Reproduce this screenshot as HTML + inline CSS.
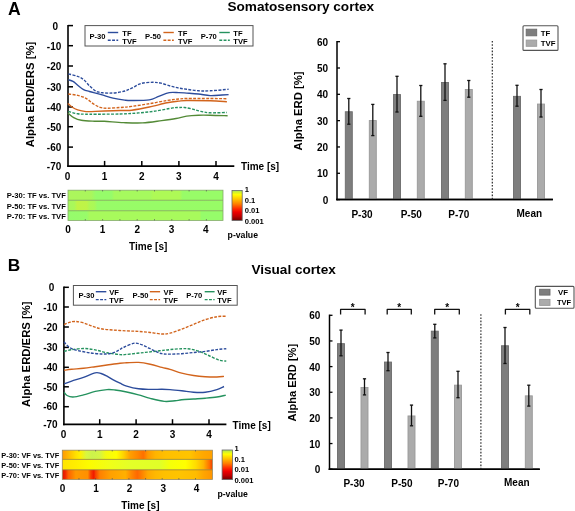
<!DOCTYPE html>
<html><head><meta charset="utf-8"><style>
html,body{margin:0;padding:0;background:#fff;width:575px;height:511px;overflow:hidden}
svg{display:block;will-change:transform}
text{font-family:"Liberation Sans", sans-serif;fill:#000}
</style></head><body>
<svg width="575" height="511" viewBox="0 0 575 511">
<defs><linearGradient id="ha1" x1="0" x2="1" y1="0" y2="0"><stop offset="0" stop-color="#acf65c"/><stop offset="0.15" stop-color="#aaf65c"/><stop offset="0.18" stop-color="#96fc6a"/><stop offset="0.28" stop-color="#96fc6a"/><stop offset="0.3" stop-color="#a6fa5e"/><stop offset="0.53" stop-color="#a6fa5e"/><stop offset="0.55" stop-color="#aefa56"/><stop offset="0.72" stop-color="#aefa56"/><stop offset="0.74" stop-color="#98fc68"/><stop offset="1" stop-color="#98fc68"/></linearGradient><linearGradient id="ha2" x1="0" x2="1" y1="0" y2="0"><stop offset="0" stop-color="#a8f85c"/><stop offset="0.04" stop-color="#aaf85a"/><stop offset="0.06" stop-color="#c0f446"/><stop offset="0.12" stop-color="#bef448"/><stop offset="0.14" stop-color="#aef854"/><stop offset="0.17" stop-color="#aaf858"/><stop offset="0.19" stop-color="#98fc68"/><stop offset="1" stop-color="#98fc66"/></linearGradient><linearGradient id="ha3" x1="0" x2="1" y1="0" y2="0"><stop offset="0" stop-color="#96fc6c"/><stop offset="0.12" stop-color="#98fc6a"/><stop offset="0.14" stop-color="#a8fa5c"/><stop offset="0.85" stop-color="#a8fa5c"/><stop offset="0.86" stop-color="#96fc6a"/><stop offset="1" stop-color="#96fc6a"/></linearGradient><linearGradient id="cb" x1="0" x2="0" y1="0" y2="1"><stop offset="0" stop-color="#a0e060"/><stop offset="0.06" stop-color="#d0f030"/><stop offset="0.14" stop-color="#ffff00"/><stop offset="0.3" stop-color="#ffc000"/><stop offset="0.45" stop-color="#ff8000"/><stop offset="0.6" stop-color="#ff3000"/><stop offset="0.72" stop-color="#f00000"/><stop offset="0.86" stop-color="#c00000"/><stop offset="1" stop-color="#700000"/></linearGradient><linearGradient id="hb1" x1="0" x2="1" y1="0" y2="0"><stop offset="0" stop-color="#ff9a00"/><stop offset="0.04" stop-color="#ffb800"/><stop offset="0.09" stop-color="#ffe000"/><stop offset="0.12" stop-color="#fff000"/><stop offset="0.16" stop-color="#d8f640"/><stop offset="0.2" stop-color="#ccf24c"/><stop offset="0.25" stop-color="#d4f444"/><stop offset="0.29" stop-color="#f4fa10"/><stop offset="0.36" stop-color="#ffff00"/><stop offset="0.41" stop-color="#ffd000"/><stop offset="0.45" stop-color="#ffa000"/><stop offset="0.5" stop-color="#ff8800"/><stop offset="0.54" stop-color="#ff7000"/><stop offset="0.57" stop-color="#ff9800"/><stop offset="0.62" stop-color="#ffb400"/><stop offset="0.69" stop-color="#ffc000"/><stop offset="0.85" stop-color="#ffc400"/><stop offset="0.89" stop-color="#ffb400"/><stop offset="0.94" stop-color="#ffa800"/><stop offset="1" stop-color="#ffa000"/></linearGradient><linearGradient id="hb2" x1="0" x2="1" y1="0" y2="0"><stop offset="0" stop-color="#ffe400"/><stop offset="0.09" stop-color="#ffee00"/><stop offset="0.18" stop-color="#fcfc00"/><stop offset="0.32" stop-color="#f0ff18"/><stop offset="0.45" stop-color="#e4ff28"/><stop offset="0.65" stop-color="#e0ff28"/><stop offset="0.72" stop-color="#f6ff08"/><stop offset="0.82" stop-color="#ffff00"/><stop offset="0.89" stop-color="#ffdc00"/><stop offset="0.94" stop-color="#ffb400"/><stop offset="0.98" stop-color="#ff7000"/><stop offset="1" stop-color="#f04000"/></linearGradient><linearGradient id="hb3" x1="0" x2="1" y1="0" y2="0"><stop offset="0" stop-color="#e01000"/><stop offset="0.02" stop-color="#f02800"/><stop offset="0.04" stop-color="#ff6000"/><stop offset="0.09" stop-color="#ff9800"/><stop offset="0.17" stop-color="#ff9000"/><stop offset="0.19" stop-color="#f84000"/><stop offset="0.21" stop-color="#f01800"/><stop offset="0.22" stop-color="#f84000"/><stop offset="0.25" stop-color="#ff8000"/><stop offset="0.32" stop-color="#ffa000"/><stop offset="0.42" stop-color="#ffb000"/><stop offset="0.46" stop-color="#ff8800"/><stop offset="0.5" stop-color="#ff6800"/><stop offset="0.52" stop-color="#ff7800"/><stop offset="0.57" stop-color="#ffa800"/><stop offset="0.62" stop-color="#ffb800"/><stop offset="0.68" stop-color="#ffc000"/><stop offset="0.78" stop-color="#ffc400"/><stop offset="0.89" stop-color="#ffbc00"/><stop offset="0.94" stop-color="#ffa600"/><stop offset="1" stop-color="#ff9400"/></linearGradient></defs>
<rect width="575" height="511" fill="#fff"/>
<text x="7.9" y="14.8" font-size="17.6" font-weight="bold" text-anchor="start">A</text>
<text x="7.7" y="271.2" font-size="17.3" font-weight="bold" text-anchor="start">B</text>
<text x="300.8" y="10.9" font-size="13.6" font-weight="bold" text-anchor="middle">Somatosensory cortex</text>
<text x="293.6" y="273.9" font-size="13.6" font-weight="bold" text-anchor="middle">Visual cortex</text>
<line x1="68" y1="24.95" x2="68" y2="166.85" stroke="#000" stroke-width="1.6"/>
<line x1="68" y1="25.6" x2="73" y2="25.6" stroke="#000" stroke-width="1.5"/>
<text x="58" y="29.9" font-size="10" font-weight="bold" text-anchor="end">0</text>
<line x1="68" y1="45.7" x2="73" y2="45.7" stroke="#000" stroke-width="1.5"/>
<text x="61.3" y="50" font-size="10" font-weight="bold" text-anchor="end">-10</text>
<line x1="68" y1="66" x2="73" y2="66" stroke="#000" stroke-width="1.5"/>
<text x="61.3" y="70.3" font-size="10" font-weight="bold" text-anchor="end">-20</text>
<line x1="68" y1="86.8" x2="73" y2="86.8" stroke="#000" stroke-width="1.5"/>
<text x="61.3" y="91.1" font-size="10" font-weight="bold" text-anchor="end">-30</text>
<line x1="68" y1="107" x2="73" y2="107" stroke="#000" stroke-width="1.5"/>
<text x="61.3" y="111.3" font-size="10" font-weight="bold" text-anchor="end">-40</text>
<line x1="68" y1="126.7" x2="73" y2="126.7" stroke="#000" stroke-width="1.5"/>
<text x="61.3" y="131" font-size="10" font-weight="bold" text-anchor="end">-50</text>
<line x1="68" y1="147.1" x2="73" y2="147.1" stroke="#000" stroke-width="1.5"/>
<text x="61.3" y="151.4" font-size="10" font-weight="bold" text-anchor="end">-60</text>
<text x="61.3" y="170.4" font-size="10" font-weight="bold" text-anchor="end">-70</text>
<line x1="67.2" y1="166.1" x2="234.3" y2="166.1" stroke="#000" stroke-width="1.6"/>
<text x="67.6" y="180" font-size="10" font-weight="bold" text-anchor="middle">0</text>
<line x1="104.6" y1="166.1" x2="104.6" y2="160.9" stroke="#000" stroke-width="1.5"/>
<text x="104.6" y="180" font-size="10" font-weight="bold" text-anchor="middle">1</text>
<line x1="141.8" y1="166.1" x2="141.8" y2="160.9" stroke="#000" stroke-width="1.5"/>
<text x="141.8" y="180" font-size="10" font-weight="bold" text-anchor="middle">2</text>
<line x1="178.9" y1="166.1" x2="178.9" y2="160.9" stroke="#000" stroke-width="1.5"/>
<text x="178.9" y="180" font-size="10" font-weight="bold" text-anchor="middle">3</text>
<line x1="216" y1="166.1" x2="216" y2="160.9" stroke="#000" stroke-width="1.5"/>
<text x="216" y="180" font-size="10" font-weight="bold" text-anchor="middle">4</text>
<text x="241" y="170" font-size="10" font-weight="bold" text-anchor="start">Time [s]</text>
<text transform="translate(34.2,94.5) rotate(-90)" font-size="11.3" font-weight="bold" text-anchor="middle">Alpha ERD/ERS [%]</text>
<path d="M67.9,113 C68.87,113.77 71.47,116.38 73.7,117.6 C75.93,118.82 77.8,119.7 81.3,120.3 C84.8,120.9 90.87,121.03 94.7,121.2 C98.53,121.37 99.52,121.07 104.3,121.3 C109.08,121.53 117.03,122.33 123.4,122.6 C129.77,122.87 136.12,123.23 142.5,122.9 C148.88,122.57 156.12,121.33 161.7,120.6 C167.28,119.87 171.83,119.25 176,118.5 C180.17,117.75 182.95,116.65 186.7,116.1 C190.45,115.55 194.58,115.35 198.5,115.2 C202.42,115.05 205.35,115.1 210.2,115.2 C215.05,115.3 224.7,115.7 227.6,115.8" fill="none" stroke="#538a36" stroke-width="1.38"/>
<path d="M68.3,111.4 C69.87,111.8 74.17,113.33 77.7,113.8 C81.23,114.27 82.45,114.17 89.5,114.2 C96.55,114.23 111.98,114.2 120,114 C128.02,113.8 131.73,113.48 137.6,113 C143.47,112.52 149.33,111.95 155.2,111.1 C161.07,110.25 168.88,108.5 172.8,107.9 C176.72,107.3 176.77,107.57 178.7,107.5 C180.63,107.43 182.08,107.23 184.4,107.5 C186.72,107.77 189.87,108.45 192.6,109.1 C195.33,109.75 197.87,110.78 200.8,111.4 C203.73,112.02 205.85,112.62 210.2,112.8 C214.55,112.98 224.12,112.55 226.9,112.5" fill="none" stroke="#25925e" stroke-width="1.38" stroke-dasharray="2.9 1.4"/>
<path d="M67.8,103.4 C68.48,104 70.25,105.92 71.9,107 C73.55,108.08 75.35,109.13 77.7,109.9 C80.05,110.67 83.07,111.35 86,111.6 C88.93,111.85 90.8,111.55 95.3,111.4 C99.8,111.25 108.1,110.85 113,110.7 C117.9,110.55 121.58,110.58 124.7,110.5 C127.82,110.42 127.6,110.78 131.7,110.2 C135.8,109.62 143.42,108.23 149.3,107 C155.18,105.77 162.1,103.78 167,102.8 C171.9,101.82 175.42,101.48 178.7,101.1 C181.98,100.72 181.45,100.55 186.7,100.5 C191.95,100.45 203.5,100.6 210.2,100.8 C216.9,101 224.12,101.55 226.9,101.7" fill="none" stroke="#d2641c" stroke-width="1.38"/>
<path d="M68.3,94 C69.87,94.23 74.75,94.68 77.7,95.4 C80.65,96.12 83.45,96.93 86,98.3 C88.55,99.67 90.67,102.1 93,103.6 C95.33,105.1 97.65,106.53 100,107.3 C102.35,108.07 103.77,108.17 107.1,108.2 C110.43,108.23 115.9,107.8 120,107.5 C124.1,107.2 126.82,107.03 131.7,106.4 C136.58,105.77 143.42,104.68 149.3,103.7 C155.18,102.72 162.1,101.28 167,100.5 C171.9,99.72 175.42,99.33 178.7,99 C181.98,98.67 181.45,98.58 186.7,98.5 C191.95,98.42 203.5,98.47 210.2,98.5 C216.9,98.53 224.12,98.67 226.9,98.7" fill="none" stroke="#d2641c" stroke-width="1.38" stroke-dasharray="2.9 1.4"/>
<path d="M68.3,79.7 C69.08,79.98 71.43,80.48 73,81.4 C74.57,82.32 75.93,83.83 77.7,85.2 C79.47,86.57 81.63,88.55 83.6,89.6 C85.57,90.65 86.57,90.67 89.5,91.5 C92.43,92.33 97.28,93.5 101.2,94.6 C105.12,95.7 109.08,97.18 113,98.1 C116.92,99.02 121.58,99.7 124.7,100.1 C127.82,100.5 127.6,100.53 131.7,100.5 C135.8,100.47 144.8,100.58 149.3,99.9 C153.8,99.22 155.37,97.62 158.7,96.4 C162.03,95.18 165.97,93.23 169.3,92.6 C172.63,91.97 175.8,92.52 178.7,92.6 C181.6,92.68 183.4,92.87 186.7,93.1 C190,93.33 194.58,93.58 198.5,94 C202.42,94.42 206.28,95.43 210.2,95.6 C214.12,95.77 218.93,95.17 222,95 C225.07,94.83 227.5,94.67 228.6,94.6" fill="none" stroke="#2c4c9c" stroke-width="1.38"/>
<path d="M68.3,73.8 C69.87,74.23 75.15,75.43 77.7,76.4 C80.25,77.37 81.63,78.02 83.6,79.6 C85.57,81.18 87.53,84.02 89.5,85.9 C91.47,87.78 93.83,89.85 95.4,90.9 C96.97,91.95 97.73,91.88 98.9,92.2 C100.07,92.52 100.67,92.65 102.4,92.8 C104.13,92.95 106.98,93.12 109.3,93.1 C111.62,93.08 113.68,93.05 116.3,92.7 C118.92,92.35 122.43,91.75 125,91 C127.57,90.25 129.02,89.45 131.7,88.2 C134.38,86.95 137.57,84.48 141.1,83.5 C144.63,82.52 149.57,82.35 152.9,82.3 C156.23,82.25 158.17,82.57 161.1,83.2 C164.03,83.83 167.57,85.3 170.5,86.1 C173.43,86.9 176,87.47 178.7,88 C181.4,88.53 183.4,88.83 186.7,89.3 C190,89.77 194.58,90.55 198.5,90.8 C202.42,91.05 205.18,91.05 210.2,90.8 C215.22,90.55 225.53,89.55 228.6,89.3" fill="none" stroke="#2c4c9c" stroke-width="1.38" stroke-dasharray="2.9 1.4"/>
<rect x="85" y="25.6" width="168" height="20.4" fill="#fff" stroke="#555" stroke-width="1"/>
<text x="89.5" y="38.7" font-size="7.6" font-weight="bold" text-anchor="start">P-30</text>
<line x1="107.8" y1="32.5" x2="118.2" y2="32.5" stroke="#2c4c9c" stroke-width="1.4"/>
<line x1="107.8" y1="40.2" x2="118.2" y2="40.2" stroke="#2c4c9c" stroke-width="1.4" stroke-dasharray="2.9 1.4"/>
<text x="122.3" y="35.8" font-size="7.6" font-weight="bold" text-anchor="start">TF</text>
<text x="122.3" y="43.5" font-size="7.6" font-weight="bold" text-anchor="start">TVF</text>
<text x="145" y="38.7" font-size="7.6" font-weight="bold" text-anchor="start">P-50</text>
<line x1="163.4" y1="32.5" x2="173.8" y2="32.5" stroke="#d2641c" stroke-width="1.4"/>
<line x1="163.4" y1="40.2" x2="173.8" y2="40.2" stroke="#d2641c" stroke-width="1.4" stroke-dasharray="2.9 1.4"/>
<text x="178" y="35.8" font-size="7.6" font-weight="bold" text-anchor="start">TF</text>
<text x="178" y="43.5" font-size="7.6" font-weight="bold" text-anchor="start">TVF</text>
<text x="200.8" y="38.7" font-size="7.6" font-weight="bold" text-anchor="start">P-70</text>
<line x1="219.3" y1="32.5" x2="229.8" y2="32.5" stroke="#25925e" stroke-width="1.4"/>
<line x1="219.3" y1="40.2" x2="229.8" y2="40.2" stroke="#25925e" stroke-width="1.4" stroke-dasharray="2.9 1.4"/>
<text x="233.3" y="35.8" font-size="7.6" font-weight="bold" text-anchor="start">TF</text>
<text x="233.3" y="43.5" font-size="7.6" font-weight="bold" text-anchor="start">TVF</text>
<rect x="68" y="190.2" width="155" height="10.1" fill="url(#ha1)" stroke="none" stroke-width="1"/>
<rect x="68" y="200.3" width="155" height="10.4" fill="url(#ha2)" stroke="none" stroke-width="1"/>
<rect x="68" y="210.7" width="155" height="9.7" fill="url(#ha3)" stroke="none" stroke-width="1"/>
<line x1="68" y1="200.3" x2="223" y2="200.3" stroke="#84b65a" stroke-width="1.1"/>
<line x1="68" y1="210.7" x2="223" y2="210.7" stroke="#84b65a" stroke-width="1.1"/>
<rect x="68" y="190.2" width="155" height="30.2" fill="none" stroke="#84aa6a" stroke-width="0.8"/>
<line x1="85.3" y1="190.2" x2="85.3" y2="191.4" stroke="#555" stroke-width="0.8"/>
<line x1="85.3" y1="219.2" x2="85.3" y2="220.4" stroke="#555" stroke-width="0.8"/>
<line x1="102.6" y1="190.2" x2="102.6" y2="191.4" stroke="#555" stroke-width="0.8"/>
<line x1="102.6" y1="219.2" x2="102.6" y2="220.4" stroke="#555" stroke-width="0.8"/>
<line x1="119.9" y1="190.2" x2="119.9" y2="191.4" stroke="#555" stroke-width="0.8"/>
<line x1="119.9" y1="219.2" x2="119.9" y2="220.4" stroke="#555" stroke-width="0.8"/>
<line x1="137.2" y1="190.2" x2="137.2" y2="191.4" stroke="#555" stroke-width="0.8"/>
<line x1="137.2" y1="219.2" x2="137.2" y2="220.4" stroke="#555" stroke-width="0.8"/>
<line x1="154.5" y1="190.2" x2="154.5" y2="191.4" stroke="#555" stroke-width="0.8"/>
<line x1="154.5" y1="219.2" x2="154.5" y2="220.4" stroke="#555" stroke-width="0.8"/>
<line x1="171.8" y1="190.2" x2="171.8" y2="191.4" stroke="#555" stroke-width="0.8"/>
<line x1="171.8" y1="219.2" x2="171.8" y2="220.4" stroke="#555" stroke-width="0.8"/>
<line x1="189.1" y1="190.2" x2="189.1" y2="191.4" stroke="#555" stroke-width="0.8"/>
<line x1="189.1" y1="219.2" x2="189.1" y2="220.4" stroke="#555" stroke-width="0.8"/>
<line x1="206.4" y1="190.2" x2="206.4" y2="191.4" stroke="#555" stroke-width="0.8"/>
<line x1="206.4" y1="219.2" x2="206.4" y2="220.4" stroke="#555" stroke-width="0.8"/>
<text x="68" y="233.3" font-size="10" font-weight="bold" text-anchor="middle">0</text>
<text x="102.6" y="233.3" font-size="10" font-weight="bold" text-anchor="middle">1</text>
<text x="137.2" y="233.3" font-size="10" font-weight="bold" text-anchor="middle">2</text>
<text x="171.6" y="233.3" font-size="10" font-weight="bold" text-anchor="middle">3</text>
<text x="205.9" y="233.3" font-size="10" font-weight="bold" text-anchor="middle">4</text>
<text x="148.2" y="250.1" font-size="10" font-weight="bold" text-anchor="middle">Time [s]</text>
<text x="65.8" y="198.4" font-size="7.6" font-weight="bold" text-anchor="end">P-30: TF vs. TVF</text>
<text x="65.8" y="208.7" font-size="7.6" font-weight="bold" text-anchor="end">P-50: TF vs. TVF</text>
<text x="65.8" y="219" font-size="7.6" font-weight="bold" text-anchor="end">P-70: TF vs. TVF</text>
<rect x="232" y="190.4" width="10.2" height="30.1" fill="url(#cb)" stroke="#666" stroke-width="0.8"/>
<text x="244.7" y="192.2" font-size="7.6" font-weight="bold" text-anchor="start">1</text>
<text x="244.7" y="202.6" font-size="7.6" font-weight="bold" text-anchor="start">0.1</text>
<text x="244.7" y="212.9" font-size="7.6" font-weight="bold" text-anchor="start">0.01</text>
<text x="244.7" y="223.8" font-size="7.6" font-weight="bold" text-anchor="start">0.001</text>
<text x="242.8" y="238" font-size="8.7" font-weight="bold" text-anchor="middle">p-value</text>
<line x1="337" y1="40.98" x2="337" y2="200.35" stroke="#000" stroke-width="1.5"/>
<line x1="336.25" y1="199.6" x2="552.9" y2="199.6" stroke="#000" stroke-width="1.5"/>
<line x1="337" y1="199.6" x2="340" y2="199.6" stroke="#000" stroke-width="1.3"/>
<text x="328.2" y="203.7" font-size="10" font-weight="bold" text-anchor="end">0</text>
<line x1="337" y1="173.28" x2="340" y2="173.28" stroke="#000" stroke-width="1.3"/>
<text x="328.2" y="177.38" font-size="10" font-weight="bold" text-anchor="end">10</text>
<line x1="337" y1="146.96" x2="340" y2="146.96" stroke="#000" stroke-width="1.3"/>
<text x="328.2" y="151.06" font-size="10" font-weight="bold" text-anchor="end">20</text>
<line x1="337" y1="120.64" x2="340" y2="120.64" stroke="#000" stroke-width="1.3"/>
<text x="328.2" y="124.74" font-size="10" font-weight="bold" text-anchor="end">30</text>
<line x1="337" y1="94.32" x2="340" y2="94.32" stroke="#000" stroke-width="1.3"/>
<text x="328.2" y="98.42" font-size="10" font-weight="bold" text-anchor="end">40</text>
<line x1="337" y1="68" x2="340" y2="68" stroke="#000" stroke-width="1.3"/>
<text x="328.2" y="72.1" font-size="10" font-weight="bold" text-anchor="end">50</text>
<line x1="337" y1="41.68" x2="340" y2="41.68" stroke="#000" stroke-width="1.3"/>
<text x="328.2" y="45.78" font-size="10" font-weight="bold" text-anchor="end">60</text>
<text transform="translate(302.2,110.9) rotate(-90)" font-size="11.3" font-weight="bold" text-anchor="middle">Alpha ERD [%]</text>
<rect x="345.3" y="111.75" width="7" height="87.85" fill="#7e7e7e" stroke="#6c6c6c" stroke-width="0.9"/>
<line x1="348.8" y1="98.5" x2="348.8" y2="124.2" stroke="#111" stroke-width="1.3"/>
<line x1="347.2" y1="98.5" x2="350.4" y2="98.5" stroke="#111" stroke-width="1.3"/>
<line x1="347.2" y1="124.2" x2="350.4" y2="124.2" stroke="#111" stroke-width="1.3"/>
<rect x="369.3" y="120.55" width="7" height="79.05" fill="#ababab" stroke="#999999" stroke-width="0.9"/>
<line x1="372.8" y1="104.4" x2="372.8" y2="135.6" stroke="#111" stroke-width="1.3"/>
<line x1="371.2" y1="104.4" x2="374.4" y2="104.4" stroke="#111" stroke-width="1.3"/>
<line x1="371.2" y1="135.6" x2="374.4" y2="135.6" stroke="#111" stroke-width="1.3"/>
<rect x="393.5" y="94.55" width="7" height="105.05" fill="#7e7e7e" stroke="#6c6c6c" stroke-width="0.9"/>
<line x1="397" y1="76.3" x2="397" y2="112" stroke="#111" stroke-width="1.3"/>
<line x1="395.4" y1="76.3" x2="398.6" y2="76.3" stroke="#111" stroke-width="1.3"/>
<line x1="395.4" y1="112" x2="398.6" y2="112" stroke="#111" stroke-width="1.3"/>
<rect x="417.3" y="101.25" width="7" height="98.35" fill="#ababab" stroke="#999999" stroke-width="0.9"/>
<line x1="420.8" y1="85.5" x2="420.8" y2="116.3" stroke="#111" stroke-width="1.3"/>
<line x1="419.2" y1="85.5" x2="422.4" y2="85.5" stroke="#111" stroke-width="1.3"/>
<line x1="419.2" y1="116.3" x2="422.4" y2="116.3" stroke="#111" stroke-width="1.3"/>
<rect x="441.5" y="82.45" width="7" height="117.15" fill="#7e7e7e" stroke="#6c6c6c" stroke-width="0.9"/>
<line x1="445" y1="63.8" x2="445" y2="100.4" stroke="#111" stroke-width="1.3"/>
<line x1="443.4" y1="63.8" x2="446.6" y2="63.8" stroke="#111" stroke-width="1.3"/>
<line x1="443.4" y1="100.4" x2="446.6" y2="100.4" stroke="#111" stroke-width="1.3"/>
<rect x="465.3" y="89.45" width="7" height="110.15" fill="#ababab" stroke="#999999" stroke-width="0.9"/>
<line x1="468.8" y1="80.5" x2="468.8" y2="97.2" stroke="#111" stroke-width="1.3"/>
<line x1="467.2" y1="80.5" x2="470.4" y2="80.5" stroke="#111" stroke-width="1.3"/>
<line x1="467.2" y1="97.2" x2="470.4" y2="97.2" stroke="#111" stroke-width="1.3"/>
<rect x="513.5" y="96.35" width="7" height="103.25" fill="#7e7e7e" stroke="#6c6c6c" stroke-width="0.9"/>
<line x1="517" y1="85.3" x2="517" y2="106.2" stroke="#111" stroke-width="1.3"/>
<line x1="515.4" y1="85.3" x2="518.6" y2="85.3" stroke="#111" stroke-width="1.3"/>
<line x1="515.4" y1="106.2" x2="518.6" y2="106.2" stroke="#111" stroke-width="1.3"/>
<rect x="537.5" y="104.05" width="7" height="95.55" fill="#ababab" stroke="#999999" stroke-width="0.9"/>
<line x1="541" y1="89.5" x2="541" y2="117" stroke="#111" stroke-width="1.3"/>
<line x1="539.4" y1="89.5" x2="542.6" y2="89.5" stroke="#111" stroke-width="1.3"/>
<line x1="539.4" y1="117" x2="542.6" y2="117" stroke="#111" stroke-width="1.3"/>
<line x1="336.25" y1="199.6" x2="552.9" y2="199.6" stroke="#000" stroke-width="1.5"/>
<line x1="492.3" y1="41" x2="492.3" y2="199.6" stroke="#222" stroke-width="1.15" stroke-dasharray="1.6 1.6"/>
<text x="362" y="217.8" font-size="10" font-weight="bold" text-anchor="middle">P-30</text>
<text x="411.2" y="217.8" font-size="10" font-weight="bold" text-anchor="middle">P-50</text>
<text x="458.8" y="217.8" font-size="10" font-weight="bold" text-anchor="middle">P-70</text>
<text x="529.3" y="216.6" font-size="10" font-weight="bold" text-anchor="middle">Mean</text>
<rect x="523" y="25.7" width="35" height="24.7" fill="#fff" stroke="#555" stroke-width="1.1" rx="1"/>
<rect x="526.2" y="29.2" width="10.5" height="6.6" fill="#7e7e7e" stroke="#6c6c6c" stroke-width="0.9"/>
<rect x="526.2" y="40.1" width="10.5" height="6.2" fill="#ababab" stroke="#999999" stroke-width="0.9"/>
<text x="540.8" y="35.5" font-size="7.8" font-weight="bold" text-anchor="start">TF</text>
<text x="540.8" y="46.3" font-size="7.8" font-weight="bold" text-anchor="start">TVF</text>
<line x1="63.9" y1="286.55" x2="63.9" y2="425.15" stroke="#000" stroke-width="1.6"/>
<line x1="63.9" y1="287.3" x2="68.9" y2="287.3" stroke="#000" stroke-width="1.5"/>
<text x="54.3" y="291" font-size="10" font-weight="bold" text-anchor="end">0</text>
<line x1="63.9" y1="307" x2="68.9" y2="307" stroke="#000" stroke-width="1.5"/>
<text x="57.6" y="310.7" font-size="10" font-weight="bold" text-anchor="end">-10</text>
<line x1="63.9" y1="327" x2="68.9" y2="327" stroke="#000" stroke-width="1.5"/>
<text x="57.6" y="330.7" font-size="10" font-weight="bold" text-anchor="end">-20</text>
<line x1="63.9" y1="347.4" x2="68.9" y2="347.4" stroke="#000" stroke-width="1.5"/>
<text x="57.6" y="351.1" font-size="10" font-weight="bold" text-anchor="end">-30</text>
<line x1="63.9" y1="367.3" x2="68.9" y2="367.3" stroke="#000" stroke-width="1.5"/>
<text x="57.6" y="371" font-size="10" font-weight="bold" text-anchor="end">-40</text>
<line x1="63.9" y1="386.8" x2="68.9" y2="386.8" stroke="#000" stroke-width="1.5"/>
<text x="57.6" y="390.5" font-size="10" font-weight="bold" text-anchor="end">-50</text>
<line x1="63.9" y1="406.7" x2="68.9" y2="406.7" stroke="#000" stroke-width="1.5"/>
<text x="57.6" y="410.4" font-size="10" font-weight="bold" text-anchor="end">-60</text>
<text x="57.6" y="428.1" font-size="10" font-weight="bold" text-anchor="end">-70</text>
<line x1="63.1" y1="424.4" x2="226.4" y2="424.4" stroke="#000" stroke-width="1.6"/>
<text x="63.6" y="437.6" font-size="10" font-weight="bold" text-anchor="middle">0</text>
<line x1="99.7" y1="424.4" x2="99.7" y2="419.2" stroke="#000" stroke-width="1.5"/>
<text x="99.7" y="437.6" font-size="10" font-weight="bold" text-anchor="middle">1</text>
<line x1="136.1" y1="424.4" x2="136.1" y2="419.2" stroke="#000" stroke-width="1.5"/>
<text x="136.1" y="437.6" font-size="10" font-weight="bold" text-anchor="middle">2</text>
<line x1="172.5" y1="424.4" x2="172.5" y2="419.2" stroke="#000" stroke-width="1.5"/>
<text x="172.5" y="437.6" font-size="10" font-weight="bold" text-anchor="middle">3</text>
<line x1="209" y1="424.4" x2="209" y2="419.2" stroke="#000" stroke-width="1.5"/>
<text x="209" y="437.6" font-size="10" font-weight="bold" text-anchor="middle">4</text>
<text x="232.6" y="428.5" font-size="10" font-weight="bold" text-anchor="start">Time [s]</text>
<text transform="translate(30.2,354.2) rotate(-90)" font-size="11.3" font-weight="bold" text-anchor="middle">Alpha ERD/ERS [%]</text>
<path d="M64.1,392.3 C64.58,392.83 65.53,394.72 67,395.5 C68.47,396.28 70.15,397.1 72.9,397 C75.65,396.9 79.78,395.83 83.5,394.9 C87.22,393.97 91.28,392.28 95.2,391.4 C99.12,390.52 103.7,389.83 107,389.6 C110.3,389.37 111.72,389.6 115,390 C118.28,390.4 122.78,391.18 126.7,392 C130.62,392.82 134.58,393.83 138.5,394.9 C142.42,395.97 145.9,397.32 150.2,398.4 C154.5,399.48 160.17,401 164.3,401.4 C168.43,401.8 172.1,401.07 175,400.8 C177.9,400.53 178.62,400.1 181.7,399.8 C184.78,399.5 189.58,399.27 193.5,399 C197.42,398.73 201.3,398.53 205.2,398.2 C209.1,397.87 213.47,397.52 216.9,397 C220.33,396.48 224.32,395.42 225.8,395.1" fill="none" stroke="#25925e" stroke-width="1.38"/>
<path d="M64.1,383.8 C65.37,383.35 68.47,382.18 71.7,381.1 C74.93,380.02 79.58,378.68 83.5,377.3 C87.42,375.92 92.27,373.43 95.2,372.8 C98.13,372.17 99.13,372.95 101.1,373.5 C103.07,374.05 105.05,375.08 107,376.1 C108.95,377.12 110.63,378.42 112.8,379.6 C114.97,380.78 117.68,382.12 120,383.2 C122.32,384.28 123.62,385.17 126.7,386.1 C129.78,387.03 134.58,388.25 138.5,388.8 C142.42,389.35 146.28,389.32 150.2,389.4 C154.12,389.48 158.7,389.27 162,389.3 C165.3,389.33 166.72,389.35 170,389.6 C173.28,389.85 177.78,390.35 181.7,390.8 C185.62,391.25 189.58,392.05 193.5,392.3 C197.42,392.55 201.3,392.75 205.2,392.3 C209.1,391.85 213.77,390.57 216.9,389.6 C220.03,388.63 222.82,387.02 224,386.5" fill="none" stroke="#2c4c9c" stroke-width="1.38"/>
<path d="M64.1,370.3 C65.37,370.13 68.47,369.63 71.7,369.3 C74.93,368.97 79.58,368.73 83.5,368.3 C87.42,367.87 91.28,367.25 95.2,366.7 C99.12,366.15 102.87,365.58 107,365 C111.13,364.42 116.72,363.57 120,363.2 C123.28,362.83 123.62,362.93 126.7,362.8 C129.78,362.67 134.58,362.17 138.5,362.4 C142.42,362.63 146.28,363.37 150.2,364.2 C154.12,365.03 158.7,366.53 162,367.4 C165.3,368.27 166.72,368.43 170,369.4 C173.28,370.37 177.78,372.18 181.7,373.2 C185.62,374.22 189.58,374.92 193.5,375.5 C197.42,376.08 201.3,376.45 205.2,376.7 C209.1,376.95 213.77,377.05 216.9,377 C220.03,376.95 222.82,376.5 224,376.4" fill="none" stroke="#d2641c" stroke-width="1.38"/>
<path d="M64.1,351.3 C65.37,351.03 68.47,350.17 71.7,349.7 C74.93,349.23 79.58,348.47 83.5,348.5 C87.42,348.53 91.28,349.18 95.2,349.9 C99.12,350.62 102.87,352.02 107,352.8 C111.13,353.58 116.72,354.33 120,354.6 C123.28,354.87 122.65,354.75 126.7,354.4 C130.75,354.05 138.82,353.1 144.3,352.5 C149.78,351.9 155.32,351.28 159.6,350.8 C163.88,350.32 166.32,349.95 170,349.6 C173.68,349.25 178.37,348.8 181.7,348.7 C185.03,348.6 187.07,348.55 190,349 C192.93,349.45 196.18,350.32 199.3,351.4 C202.42,352.48 205.37,354.03 208.7,355.5 C212.03,356.97 216.37,359.27 219.3,360.2 C222.23,361.13 225.13,360.95 226.3,361.1" fill="none" stroke="#25925e" stroke-width="1.38" stroke-dasharray="2.9 1.4"/>
<path d="M64.1,341.7 C64.58,342.28 65.73,344.03 67,345.2 C68.27,346.37 69.93,347.82 71.7,348.7 C73.47,349.58 74.67,349.82 77.6,350.5 C80.53,351.18 85.38,352.22 89.3,352.8 C93.22,353.38 97.77,353.85 101.1,354 C104.43,354.15 106.95,354.03 109.3,353.7 C111.65,353.37 113.42,352.73 115.2,352 C116.98,351.27 118.47,350.13 120,349.3 C121.53,348.47 121.9,348.03 124.4,347 C126.9,345.97 131.68,343.3 135,343.1 C138.32,342.9 141.18,344.57 144.3,345.8 C147.42,347.03 150.75,349.18 153.7,350.5 C156.65,351.82 159.28,353.1 162,353.7 C164.72,354.3 166.72,354.1 170,354.1 C173.28,354.1 177.78,353.97 181.7,353.7 C185.62,353.43 189.58,352.88 193.5,352.5 C197.42,352.12 201.3,351.88 205.2,351.4 C209.1,350.92 213.38,350.05 216.9,349.6 C220.42,349.15 224.73,348.85 226.3,348.7" fill="none" stroke="#2c4c9c" stroke-width="1.38" stroke-dasharray="2.9 1.4"/>
<path d="M64.1,324.7 C64.98,324.3 67.53,322.83 69.4,322.3 C71.27,321.77 72.95,321.4 75.3,321.5 C77.65,321.6 80.57,322.08 83.5,322.9 C86.43,323.72 89.97,325.42 92.9,326.4 C95.83,327.38 97.78,328.2 101.1,328.8 C104.42,329.4 108.53,329.65 112.8,330 C117.07,330.35 122.42,330.67 126.7,330.9 C130.98,331.13 134.58,331.13 138.5,331.4 C142.42,331.67 146.28,332.07 150.2,332.5 C154.12,332.93 158.7,333.88 162,334 C165.3,334.12 166.72,334.02 170,333.2 C173.28,332.38 177.78,330.57 181.7,329.1 C185.62,327.63 189.58,325.97 193.5,324.4 C197.42,322.83 201.3,320.98 205.2,319.7 C209.1,318.42 213.38,317.28 216.9,316.7 C220.42,316.12 224.73,316.28 226.3,316.2" fill="none" stroke="#d2641c" stroke-width="1.38" stroke-dasharray="2.9 1.4"/>
<rect x="73.4" y="285.5" width="163.8" height="19.7" fill="#fff" stroke="#555" stroke-width="1"/>
<text x="78.5" y="298" font-size="7.6" font-weight="bold" text-anchor="start">P-30</text>
<line x1="95.8" y1="291.7" x2="106.3" y2="291.7" stroke="#2c4c9c" stroke-width="1.4"/>
<line x1="95.8" y1="299.6" x2="106.3" y2="299.6" stroke="#2c4c9c" stroke-width="1.4" stroke-dasharray="2.9 1.4"/>
<text x="109.2" y="295.1" font-size="7.6" font-weight="bold" text-anchor="start">VF</text>
<text x="109.2" y="303" font-size="7.6" font-weight="bold" text-anchor="start">TVF</text>
<text x="132.5" y="298" font-size="7.6" font-weight="bold" text-anchor="start">P-50</text>
<line x1="149.8" y1="291.7" x2="160.1" y2="291.7" stroke="#d2641c" stroke-width="1.4"/>
<line x1="149.8" y1="299.6" x2="160.1" y2="299.6" stroke="#d2641c" stroke-width="1.4" stroke-dasharray="2.9 1.4"/>
<text x="163.6" y="295.1" font-size="7.6" font-weight="bold" text-anchor="start">VF</text>
<text x="163.6" y="303" font-size="7.6" font-weight="bold" text-anchor="start">TVF</text>
<text x="186.2" y="298" font-size="7.6" font-weight="bold" text-anchor="start">P-70</text>
<line x1="204.7" y1="291.7" x2="214.6" y2="291.7" stroke="#25925e" stroke-width="1.4"/>
<line x1="204.7" y1="299.6" x2="214.6" y2="299.6" stroke="#25925e" stroke-width="1.4" stroke-dasharray="2.9 1.4"/>
<text x="217.2" y="295.1" font-size="7.6" font-weight="bold" text-anchor="start">VF</text>
<text x="217.2" y="303" font-size="7.6" font-weight="bold" text-anchor="start">TVF</text>
<rect x="62.3" y="450.2" width="150.1" height="9.2" fill="url(#hb1)" stroke="none" stroke-width="1"/>
<rect x="62.3" y="459.4" width="150.1" height="10.4" fill="url(#hb2)" stroke="none" stroke-width="1"/>
<rect x="62.3" y="469.8" width="150.1" height="9.6" fill="url(#hb3)" stroke="none" stroke-width="1"/>
<line x1="62.3" y1="459.4" x2="212.4" y2="459.4" stroke="#907830" stroke-width="1.0" stroke-opacity="0.75"/>
<line x1="62.3" y1="469.8" x2="212.4" y2="469.8" stroke="#907830" stroke-width="1.0" stroke-opacity="0.75"/>
<rect x="62.3" y="450.2" width="150.1" height="29.2" fill="none" stroke="#9a8a60" stroke-width="0.8"/>
<line x1="78.95" y1="450.2" x2="78.95" y2="451.4" stroke="#555" stroke-width="0.8"/>
<line x1="78.95" y1="478.2" x2="78.95" y2="479.4" stroke="#555" stroke-width="0.8"/>
<line x1="95.6" y1="450.2" x2="95.6" y2="451.4" stroke="#555" stroke-width="0.8"/>
<line x1="95.6" y1="478.2" x2="95.6" y2="479.4" stroke="#555" stroke-width="0.8"/>
<line x1="112.25" y1="450.2" x2="112.25" y2="451.4" stroke="#555" stroke-width="0.8"/>
<line x1="112.25" y1="478.2" x2="112.25" y2="479.4" stroke="#555" stroke-width="0.8"/>
<line x1="128.9" y1="450.2" x2="128.9" y2="451.4" stroke="#555" stroke-width="0.8"/>
<line x1="128.9" y1="478.2" x2="128.9" y2="479.4" stroke="#555" stroke-width="0.8"/>
<line x1="145.55" y1="450.2" x2="145.55" y2="451.4" stroke="#555" stroke-width="0.8"/>
<line x1="145.55" y1="478.2" x2="145.55" y2="479.4" stroke="#555" stroke-width="0.8"/>
<line x1="162.2" y1="450.2" x2="162.2" y2="451.4" stroke="#555" stroke-width="0.8"/>
<line x1="162.2" y1="478.2" x2="162.2" y2="479.4" stroke="#555" stroke-width="0.8"/>
<line x1="178.85" y1="450.2" x2="178.85" y2="451.4" stroke="#555" stroke-width="0.8"/>
<line x1="178.85" y1="478.2" x2="178.85" y2="479.4" stroke="#555" stroke-width="0.8"/>
<line x1="195.5" y1="450.2" x2="195.5" y2="451.4" stroke="#555" stroke-width="0.8"/>
<line x1="195.5" y1="478.2" x2="195.5" y2="479.4" stroke="#555" stroke-width="0.8"/>
<text x="62.6" y="492.3" font-size="10" font-weight="bold" text-anchor="middle">0</text>
<text x="96" y="492.3" font-size="10" font-weight="bold" text-anchor="middle">1</text>
<text x="129.6" y="492.3" font-size="10" font-weight="bold" text-anchor="middle">2</text>
<text x="163.2" y="492.3" font-size="10" font-weight="bold" text-anchor="middle">3</text>
<text x="196.6" y="492.3" font-size="10" font-weight="bold" text-anchor="middle">4</text>
<text x="140.4" y="509" font-size="10" font-weight="bold" text-anchor="middle">Time [s]</text>
<text x="59.2" y="457.8" font-size="7.4" font-weight="bold" text-anchor="end">P-30: VF vs. TVF</text>
<text x="59.2" y="468.3" font-size="7.4" font-weight="bold" text-anchor="end">P-50: VF vs. TVF</text>
<text x="59.2" y="478.4" font-size="7.4" font-weight="bold" text-anchor="end">P-70: VF vs. TVF</text>
<rect x="222.1" y="450" width="10.4" height="29.6" fill="url(#cb)" stroke="#666" stroke-width="0.8"/>
<text x="234.4" y="451.4" font-size="7.6" font-weight="bold" text-anchor="start">1</text>
<text x="234.4" y="461.6" font-size="7.6" font-weight="bold" text-anchor="start">0.1</text>
<text x="234.4" y="471.5" font-size="7.6" font-weight="bold" text-anchor="start">0.01</text>
<text x="234.4" y="483.1" font-size="7.6" font-weight="bold" text-anchor="start">0.001</text>
<text x="232.6" y="496.5" font-size="8.7" font-weight="bold" text-anchor="middle">p-value</text>
<line x1="329.5" y1="314.6" x2="329.5" y2="469.95" stroke="#000" stroke-width="1.5"/>
<line x1="328.75" y1="469.2" x2="539.8" y2="469.2" stroke="#000" stroke-width="1.5"/>
<line x1="329.5" y1="469.2" x2="332.5" y2="469.2" stroke="#000" stroke-width="1.3"/>
<text x="320.4" y="473.3" font-size="10" font-weight="bold" text-anchor="end">0</text>
<line x1="329.5" y1="443.55" x2="332.5" y2="443.55" stroke="#000" stroke-width="1.3"/>
<text x="320.4" y="447.65" font-size="10" font-weight="bold" text-anchor="end">10</text>
<line x1="329.5" y1="417.9" x2="332.5" y2="417.9" stroke="#000" stroke-width="1.3"/>
<text x="320.4" y="422" font-size="10" font-weight="bold" text-anchor="end">20</text>
<line x1="329.5" y1="392.25" x2="332.5" y2="392.25" stroke="#000" stroke-width="1.3"/>
<text x="320.4" y="396.35" font-size="10" font-weight="bold" text-anchor="end">30</text>
<line x1="329.5" y1="366.6" x2="332.5" y2="366.6" stroke="#000" stroke-width="1.3"/>
<text x="320.4" y="370.7" font-size="10" font-weight="bold" text-anchor="end">40</text>
<line x1="329.5" y1="340.95" x2="332.5" y2="340.95" stroke="#000" stroke-width="1.3"/>
<text x="320.4" y="345.05" font-size="10" font-weight="bold" text-anchor="end">50</text>
<line x1="329.5" y1="315.3" x2="332.5" y2="315.3" stroke="#000" stroke-width="1.3"/>
<text x="320.4" y="319.4" font-size="10" font-weight="bold" text-anchor="end">60</text>
<text transform="translate(296.0,382.7) rotate(-90)" font-size="11.1" font-weight="bold" text-anchor="middle">Alpha ERD [%]</text>
<rect x="337.5" y="343.65" width="7" height="125.55" fill="#7e7e7e" stroke="#6c6c6c" stroke-width="0.9"/>
<line x1="341" y1="330.1" x2="341" y2="355.8" stroke="#111" stroke-width="1.3"/>
<line x1="339.4" y1="330.1" x2="342.6" y2="330.1" stroke="#111" stroke-width="1.3"/>
<line x1="339.4" y1="355.8" x2="342.6" y2="355.8" stroke="#111" stroke-width="1.3"/>
<rect x="361" y="387.55" width="7" height="81.65" fill="#ababab" stroke="#999999" stroke-width="0.9"/>
<line x1="364.5" y1="378.8" x2="364.5" y2="394.9" stroke="#111" stroke-width="1.3"/>
<line x1="362.9" y1="378.8" x2="366.1" y2="378.8" stroke="#111" stroke-width="1.3"/>
<line x1="362.9" y1="394.9" x2="366.1" y2="394.9" stroke="#111" stroke-width="1.3"/>
<rect x="384.5" y="362.05" width="7" height="107.15" fill="#7e7e7e" stroke="#6c6c6c" stroke-width="0.9"/>
<line x1="388" y1="352.5" x2="388" y2="370.7" stroke="#111" stroke-width="1.3"/>
<line x1="386.4" y1="352.5" x2="389.6" y2="352.5" stroke="#111" stroke-width="1.3"/>
<line x1="386.4" y1="370.7" x2="389.6" y2="370.7" stroke="#111" stroke-width="1.3"/>
<rect x="408" y="415.95" width="7" height="53.25" fill="#ababab" stroke="#999999" stroke-width="0.9"/>
<line x1="411.5" y1="405.1" x2="411.5" y2="425.8" stroke="#111" stroke-width="1.3"/>
<line x1="409.9" y1="405.1" x2="413.1" y2="405.1" stroke="#111" stroke-width="1.3"/>
<line x1="409.9" y1="425.8" x2="413.1" y2="425.8" stroke="#111" stroke-width="1.3"/>
<rect x="431.3" y="331.15" width="7" height="138.05" fill="#7e7e7e" stroke="#6c6c6c" stroke-width="0.9"/>
<line x1="434.8" y1="324.3" x2="434.8" y2="337.9" stroke="#111" stroke-width="1.3"/>
<line x1="433.2" y1="324.3" x2="436.4" y2="324.3" stroke="#111" stroke-width="1.3"/>
<line x1="433.2" y1="337.9" x2="436.4" y2="337.9" stroke="#111" stroke-width="1.3"/>
<rect x="454.5" y="385.15" width="7" height="84.05" fill="#ababab" stroke="#999999" stroke-width="0.9"/>
<line x1="458" y1="371.3" x2="458" y2="397.7" stroke="#111" stroke-width="1.3"/>
<line x1="456.4" y1="371.3" x2="459.6" y2="371.3" stroke="#111" stroke-width="1.3"/>
<line x1="456.4" y1="397.7" x2="459.6" y2="397.7" stroke="#111" stroke-width="1.3"/>
<rect x="501.5" y="345.75" width="7" height="123.45" fill="#7e7e7e" stroke="#6c6c6c" stroke-width="0.9"/>
<line x1="505" y1="327.5" x2="505" y2="363.5" stroke="#111" stroke-width="1.3"/>
<line x1="503.4" y1="327.5" x2="506.6" y2="327.5" stroke="#111" stroke-width="1.3"/>
<line x1="503.4" y1="363.5" x2="506.6" y2="363.5" stroke="#111" stroke-width="1.3"/>
<rect x="525.3" y="395.85" width="7" height="73.35" fill="#ababab" stroke="#999999" stroke-width="0.9"/>
<line x1="528.8" y1="385.2" x2="528.8" y2="406.1" stroke="#111" stroke-width="1.3"/>
<line x1="527.2" y1="385.2" x2="530.4" y2="385.2" stroke="#111" stroke-width="1.3"/>
<line x1="527.2" y1="406.1" x2="530.4" y2="406.1" stroke="#111" stroke-width="1.3"/>
<line x1="328.75" y1="469.2" x2="539.8" y2="469.2" stroke="#000" stroke-width="1.5"/>
<line x1="480.9" y1="314.2" x2="480.9" y2="469.2" stroke="#222" stroke-width="1.15" stroke-dasharray="1.6 1.6"/>
<path d="M340.6,314.6 V309.4 H365.1 V314.6" fill="none" stroke="#111" stroke-width="1.3" stroke-linejoin="round"/>
<text x="352.8" y="310.7" font-size="10" font-weight="bold" text-anchor="middle">*</text>
<path d="M387.2,314.6 V309.4 H411.3 V314.6" fill="none" stroke="#111" stroke-width="1.3" stroke-linejoin="round"/>
<text x="399.3" y="310.7" font-size="10" font-weight="bold" text-anchor="middle">*</text>
<path d="M434.7,314.6 V309.4 H459.3 V314.6" fill="none" stroke="#111" stroke-width="1.3" stroke-linejoin="round"/>
<text x="447.1" y="310.7" font-size="10" font-weight="bold" text-anchor="middle">*</text>
<path d="M505.4,314.6 V309.4 H529.8 V314.6" fill="none" stroke="#111" stroke-width="1.3" stroke-linejoin="round"/>
<text x="517.6" y="310.7" font-size="10" font-weight="bold" text-anchor="middle">*</text>
<text x="354" y="487" font-size="10" font-weight="bold" text-anchor="middle">P-30</text>
<text x="401.9" y="487" font-size="10" font-weight="bold" text-anchor="middle">P-50</text>
<text x="448.4" y="487" font-size="10" font-weight="bold" text-anchor="middle">P-70</text>
<text x="516.8" y="485.6" font-size="10" font-weight="bold" text-anchor="middle">Mean</text>
<rect x="535.3" y="286.4" width="38.7" height="21.8" fill="#fff" stroke="#555" stroke-width="1.1" rx="1"/>
<rect x="539.6" y="289.3" width="10.4" height="5.8" fill="#7e7e7e" stroke="#6c6c6c" stroke-width="0.9"/>
<rect x="539.6" y="299.4" width="10.4" height="6" fill="#ababab" stroke="#999999" stroke-width="0.9"/>
<text x="558" y="294.6" font-size="7.8" font-weight="bold" text-anchor="start">VF</text>
<text x="557" y="305.3" font-size="7.5" font-weight="bold" text-anchor="start">TVF</text>
</svg>
</body></html>
